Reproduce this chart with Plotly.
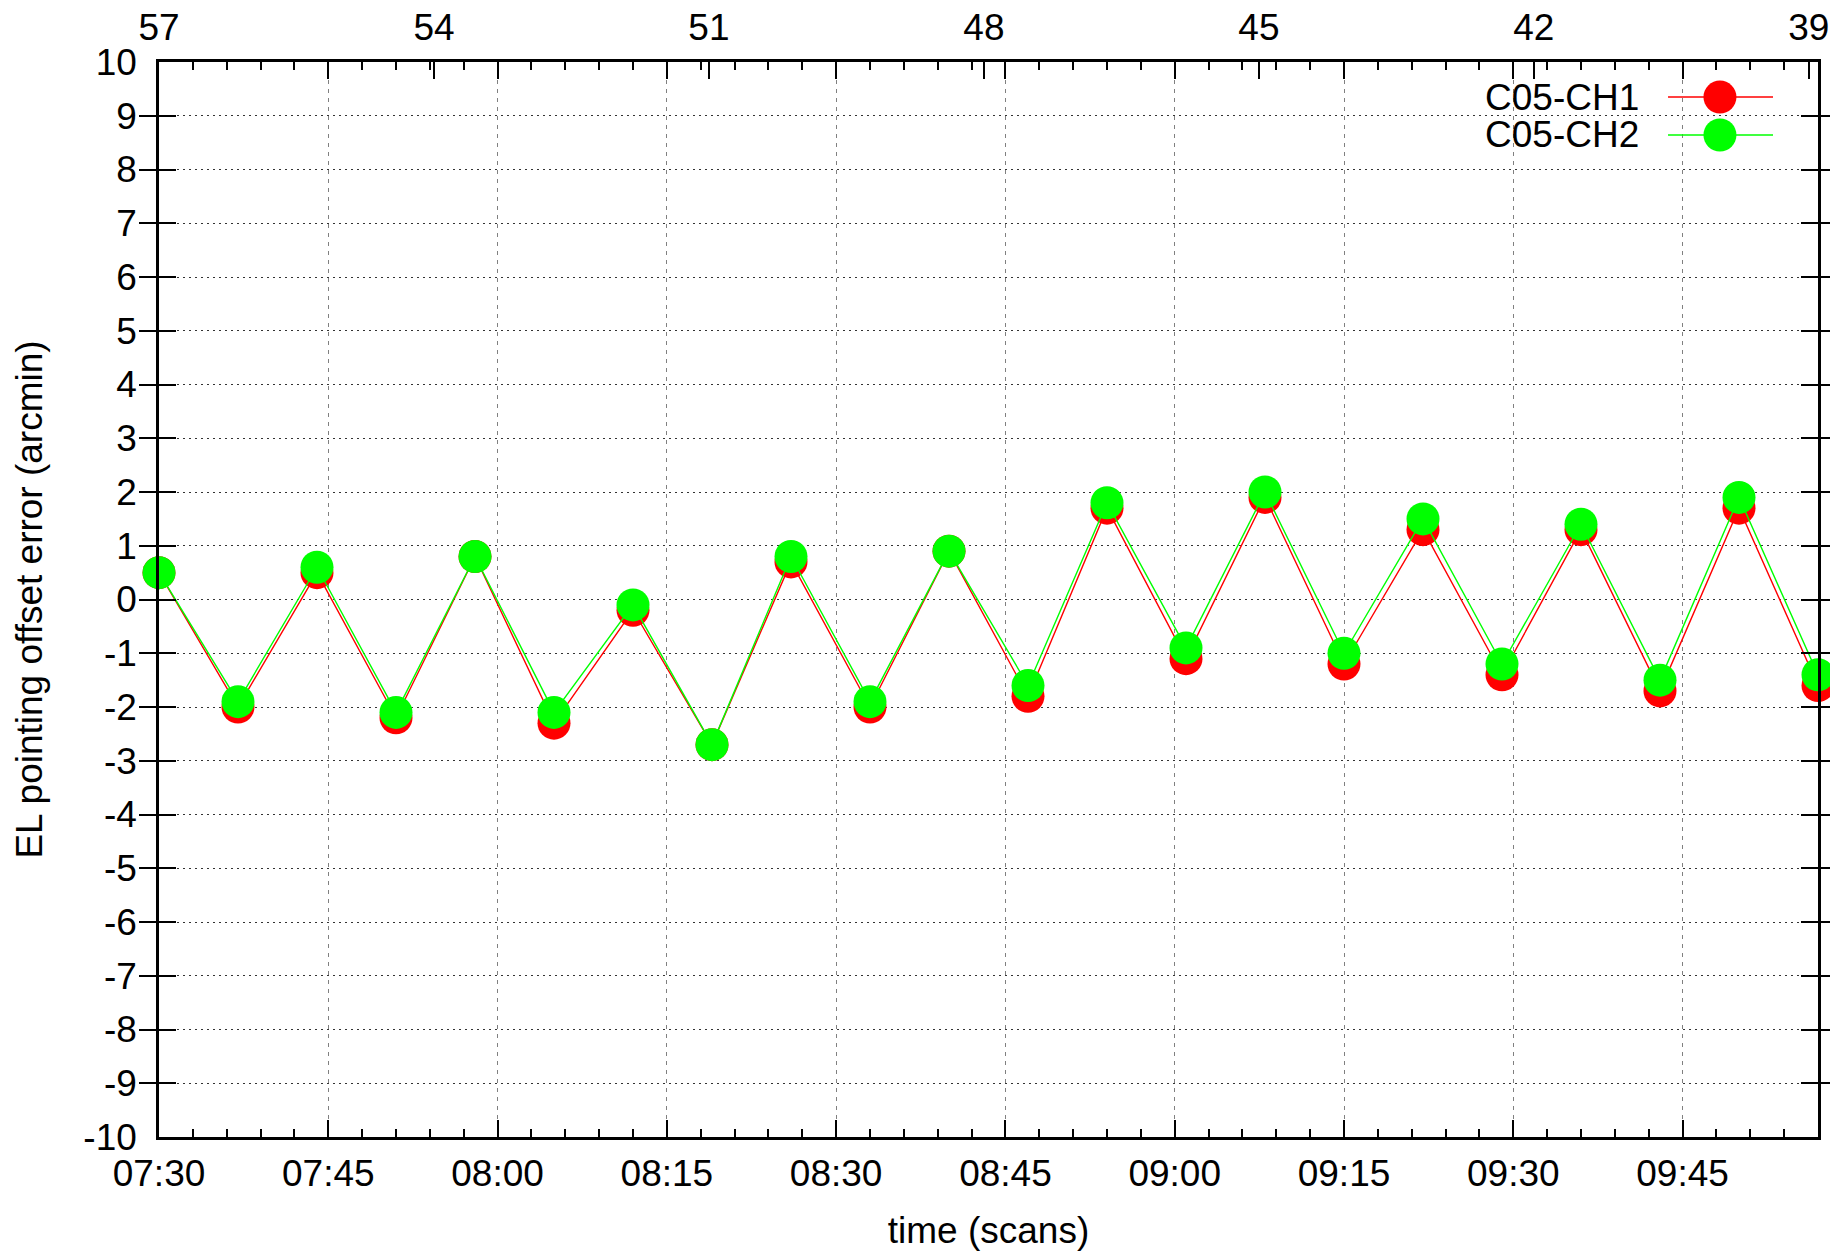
import plotly.graph_objects as go

# ---------------- data ----------------
DAY = "2000-01-01 "
times = ["07:30", "07:37", "07:44", "07:51", "07:58", "08:05", "08:12", "08:19",
         "08:26", "08:33", "08:40", "08:47", "08:54", "09:01", "09:08", "09:15",
         "09:22", "09:29", "09:36", "09:43", "09:50", "09:57"]
ch1 = [0.5, -2.0, 0.5, -2.2, 0.8, -2.3, -0.2, -2.7, 0.7, -2.0, 0.9,
       -1.8, 1.7, -1.1, 1.9, -1.2, 1.3, -1.4, 1.3, -1.7, 1.7, -1.6]
ch2 = [0.5, -1.9, 0.6, -2.1, 0.8, -2.1, -0.1, -2.7, 0.8, -1.9, 0.9,
       -1.6, 1.8, -0.9, 2.0, -1.0, 1.5, -1.2, 1.4, -1.5, 1.9, -1.4]
series_names = ["C05-CH1", "C05-CH2"]
series_colors = ["#ff0000", "#00ff00"]

x_range = ["07:30", "09:57"]
scan_ticks = [57, 54, 51, 48, 45, 42, 39]
scan_range = [57, 38.9]
y_ticks = list(range(-10, 11))
y_ticktext = [str(v) for v in y_ticks]

FONT = "Liberation Sans"
FS = 37

xs = [DAY + t for t in times]

fig = go.Figure()
for name, vals, col in zip(series_names, [ch1, ch2], series_colors):
    fig.add_trace(go.Scatter(
        x=xs, y=vals, name=name, mode="lines+markers",
        line=dict(color=col, width=1.4),
        marker=dict(color=col, size=33, line=dict(width=0)),
        cliponaxis=False, showlegend=False,
    ))

# invisible trace to carry the top (scan) axis
fig.add_trace(go.Scatter(x=scan_range, y=[None, None], xaxis="x2", yaxis="y",
                         mode="markers", showlegend=False, hoverinfo="skip"))

axis_common = dict(showline=True, linecolor="black", linewidth=2.5,
                   ticks="inside", tickcolor="black", tickwidth=2,
                   automargin=False,
                   tickfont=dict(family=FONT, size=FS, color="black"))

fig.update_layout(
    width=1830, height=1244,
    margin=dict(l=151, r=20, t=54, b=115),
    paper_bgcolor="white", plot_bgcolor="white",
    font=dict(family=FONT, size=FS, color="black"),
    xaxis=dict(
        type="date",
        range=[DAY + x_range[0], DAY + x_range[1]],
        tick0=DAY + x_range[0], dtick=15 * 60 * 1000,
        tickformat="%H:%M", ticklen=17, mirror="allticks",
        ticklabelstandoff=2,
        showgrid=True, gridcolor="#808080", gridwidth=1, griddash="4px,5px",
        minor=dict(dtick=3 * 60 * 1000, ticklen=8, tickwidth=2, tickcolor="black",
                   ticks="inside", showgrid=False),
        title=dict(text="time (scans)", font=dict(family=FONT, size=FS), standoff=24),
        zeroline=False,
        **axis_common,
    ),
    xaxis2=dict(
        overlaying="x", side="top", anchor="y",
        range=scan_range, tickvals=scan_ticks, ticklen=17,
        ticklabelstandoff=4,
        showgrid=False, zeroline=False,
        **axis_common,
    ),
    yaxis=dict(
        range=[-10, 10], tickvals=y_ticks, ticktext=y_ticktext,
        ticklen=17, mirror="allticks", ticklabelstandoff=12,
        showgrid=True, gridcolor="#333333", gridwidth=1, griddash="2px,4px",
        zeroline=False,
        title=dict(text="EL pointing offset error (arcmin)",
                   font=dict(family=FONT, size=FS), standoff=30),
        **axis_common,
    ),
)

# ---------- gnuplot-style key (text left, sample right) ----------
key_text_x = 0.8933
key_line_x = [0.9096, 0.9729]
key_mark_x = 0.9409
key_rows = [0.9674, 0.9321]

fig.add_shape(type="rect", xref="paper", yref="paper",
              x0=0.80, x1=0.988, y0=0.905, y1=1.0,
              fillcolor="white", line=dict(width=0), layer="between")

for name, col, yr in zip(series_names, series_colors, key_rows):
    fig.add_annotation(xref="paper", yref="paper", x=key_text_x, y=yr,
                       text=name, showarrow=False, xanchor="right", yanchor="middle",
                       font=dict(family=FONT, size=FS, color="black"))
    fig.add_shape(type="line", xref="paper", yref="paper",
                  x0=key_line_x[0], x1=key_line_x[1], y0=yr, y1=yr,
                  line=dict(color=col, width=1.4))
    fig.add_shape(type="circle", xref="paper", yref="paper",
                  xsizemode="pixel", ysizemode="pixel",
                  xanchor=key_mark_x, yanchor=yr,
                  x0=-16.5, x1=16.5, y0=-16.5, y1=16.5,
                  fillcolor=col, line=dict(width=0))

fig.write_html("out.html")
